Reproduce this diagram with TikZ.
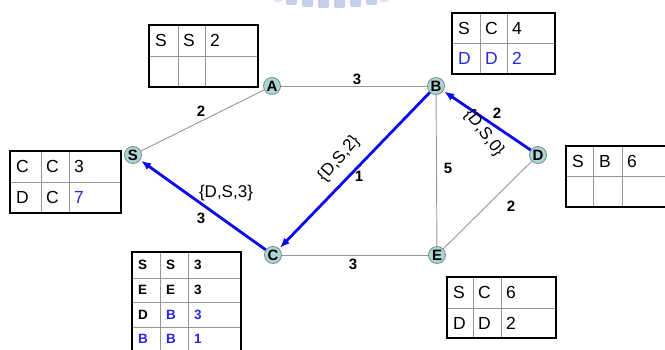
\documentclass[tikz,border=0pt]{standalone}
\usepackage{fontspec}
\setmainfont{Liberation Sans}
\usetikzlibrary{arrows.meta}
\definecolor{nodefill}{RGB}{172,214,214}
\definecolor{nodeedge}{RGB}{120,140,140}
\definecolor{edgegray}{RGB}{150,150,150}
\definecolor{pathblue}{RGB}{10,10,235}
\definecolor{tblue}{RGB}{40,40,220}
\definecolor{logoblue}{RGB}{150,165,225}
\tikzset{
  router/.style={circle,draw=nodeedge,fill=nodefill,line width=0.8pt,minimum size=17pt,inner sep=0pt,font=\fontsize{15}{15}\selectfont\bfseries},
  link/.style={draw=edgegray,line width=0.9pt},
  route/.style={draw=pathblue,line width=2.8pt,-{Latex[length=10pt,width=8pt]},shorten >=1pt},
  wlabel/.style={font=\fontsize{15}{15}\selectfont\bfseries,inner sep=0pt},
  vlabel/.style={font=\fontsize{17}{17}\selectfont,inner sep=0pt},
  outer/.style={draw=black,line width=2.8pt},
  inner/.style={draw=edgegray,line width=0.9pt},
  cell/.style={anchor=west,inner sep=0pt,font=\fontsize{17.5}{17.5}\selectfont},
  scell/.style={anchor=west,inner sep=0pt,font=\fontsize{13.5}{13.5}\selectfont\bfseries},
}
\begin{document}
\begin{tikzpicture}[x=1pt,y=-1pt]
\useasboundingbox (0,0) rectangle (665,350);
% faint logo fragment
\foreach \xx/\hh in {286/5,302/7,318/8,334/8,350/7,366/5}
  \fill[logoblue,opacity=0.55,rounded corners=2pt] (\xx,-3) rectangle ++(11,\hh+3);
\fill[logoblue,opacity=0.3,rounded corners=1.5pt] (274,-3) rectangle ++(8,5);
\fill[logoblue,opacity=0.3,rounded corners=1.5pt] (380,-3) rectangle ++(8,5);

% routers
\node[router] (A) at (272,86) {A};
\node[router] (B) at (436,86) {B};
\node[router] (S) at (133,155) {S};
\node[router] (D) at (538,155) {D};
\node[router] (C) at (273,255) {C};
\node[router] (E) at (437,255) {E};

% links
\draw[link] (S) -- (A);
\draw[link] (A) -- (B);
\draw[link] (B) -- (E);
\draw[link] (C) -- (E);
\draw[link] (D) -- (E);

% route
\draw[route] (D) -- (B);
\draw[route] (B) -- (C);
\draw[route] (C) -- (S);

% weights
\node[wlabel] (wAB) at (357,79) {3};
\node[wlabel] (wSA) at (201,111) {2};
\node[wlabel] (wBD) at (497,113) {2};
\node[wlabel] (wBC) at (359,176) {1};
\node[wlabel] (wBE) at (448,168) {5};
\node[wlabel] (wDE) at (511,206) {2};
\node[wlabel] (wCE) at (353,264) {3};
\node[wlabel] (wCS) at (201,218) {3};

% vectors
\node[vlabel,rotate=-52] (vBD) at (484,133) {\{D,S,0\}};
\node[vlabel,rotate=49] (vBC) at (339,159) {\{D,S,2\}};
\node[vlabel] (vCS) at (226,193) {\{D,S,3\}};

% table at A
\draw[inner] (178,25) -- (178,87) (205,25) -- (205,87) (149,56) -- (258,56);
\draw[outer] (149,25) rectangle (258,87);
\node[cell] (ta11) at (155,40.5) {S};
\node[cell] (ta12) at (183,40.5) {S};
\node[cell] (ta13) at (210,40.5) {2};

% table at B
\draw[inner] (480,13) -- (480,74) (507,13) -- (507,74) (452,43) -- (555,43);
\draw[outer] (452,13) rectangle (555,74);
\node[cell] (tb11) at (458,28) {S};
\node[cell] (tb12) at (485,28) {C};
\node[cell] (tb13) at (512,28) {4};
\node[cell,text=tblue] (tb21) at (458,58.5) {D};
\node[cell,text=tblue] (tb22) at (485,58.5) {D};
\node[cell,text=tblue] (tb23) at (512,58.5) {2};

% table at S
\draw[inner] (41,151) -- (41,213) (69,151) -- (69,213) (10,182) -- (121,182);
\draw[outer] (10,151) rectangle (121,213);
\node[cell] (ts11) at (16,166.5) {C};
\node[cell] (ts12) at (46,166.5) {C};
\node[cell] (ts13) at (74,166.5) {3};
\node[cell] (ts21) at (16,197.5) {D};
\node[cell] (ts22) at (46,197.5) {C};
\node[cell,text=tblue] (ts23) at (74,197.5) {7};

% table at D
\draw[inner] (593,146) -- (593,207) (622,146) -- (622,207) (566,176) -- (672,176);
\draw[outer] (566,146) rectangle (672,207);
\node[cell] (td11) at (572,161) {S};
\node[cell] (td12) at (599,161) {B};
\node[cell] (td13) at (627,161) {6};

% table at E
\draw[inner] (473,277) -- (473,338) (501,277) -- (501,338) (447,308) -- (556,308);
\draw[outer] (447,277) rectangle (556,338);
\node[cell] (te11) at (453,292.5) {S};
\node[cell] (te12) at (478,292.5) {C};
\node[cell] (te13) at (506,292.5) {6};
\node[cell] (te21) at (453,323) {D};
\node[cell] (te22) at (478,323) {D};
\node[cell] (te23) at (506,323) {2};

% table at C
\draw[inner] (160,252) -- (160,356) (188,252) -- (188,356)
  (132,278) -- (241,278) (132,302) -- (241,302) (132,327) -- (241,327);
\draw[outer] (132,252) rectangle (241,358);
\node[scell] (tc11) at (138,265) {S};
\node[scell] (tc12) at (166,265) {S};
\node[scell] (tc13) at (194,265) {3};
\node[scell] (tc21) at (138,290) {E};
\node[scell] (tc22) at (166,290) {E};
\node[scell] (tc23) at (194,290) {3};
\node[scell] (tc31) at (138,314.5) {D};
\node[scell,text=tblue] (tc32) at (166,314.5) {B};
\node[scell,text=tblue] (tc33) at (194,314.5) {3};
\node[scell,text=tblue] (tc41) at (138,339) {B};
\node[scell,text=tblue] (tc42) at (166,339) {B};
\node[scell,text=tblue] (tc43) at (194,339) {1};
\end{tikzpicture}
\end{document}
